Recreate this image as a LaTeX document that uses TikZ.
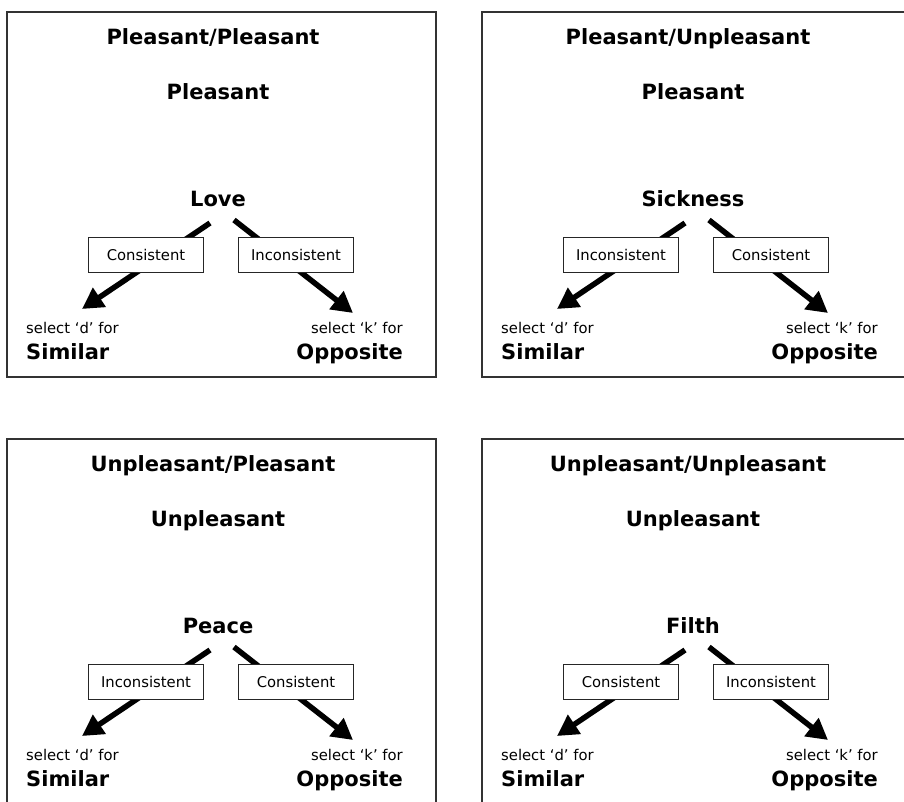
\documentclass[tikz,border=0pt]{standalone}
\usepackage{fontspec}
\setmainfont{DejaVu Sans}
\usetikzlibrary{arrows.meta}

\tikzset{
  panel/.style={draw=black!80, line width=2pt},
  heading/.style={inner sep=0pt, font=\fontsize{21}{24}\selectfont\bfseries},
  hint/.style={inner sep=0pt, font=\fontsize{14.8}{17}\selectfont},
  cond/.style={draw=black!85, line width=1.2pt, fill=white, minimum width=115pt,
    minimum height=35pt, inner sep=0pt, font=\fontsize{14.8}{17}\selectfont},
  choice/.style={line width=5.5pt, -{Triangle[length=21pt,width=22pt]}},
}

\begin{document}
\begin{tikzpicture}[x=1pt, y=-1pt]
        \useasboundingbox (0,0) rectangle (904,801);
        \clip (0,0) rectangle (904,801);
        \foreach \px/\py/\cat/\tgt/\word/\lft/\rgt [count=\k] in {
            7/12/Pleasant/Pleasant/Love/Consistent/Inconsistent,
            482/12/Pleasant/Unpleasant/Sickness/Inconsistent/Consistent,
            7/439/Unpleasant/Pleasant/Peace/Inconsistent/Consistent,
            482/439/Unpleasant/Unpleasant/Filth/Consistent/Inconsistent} {
            \begin{scope}[shift={(\px,\py)}]
                \draw[panel] (0,0) rectangle (429,365);
                
                \node[heading, anchor=base] (title\k) at (206,32) {\cat/\tgt};
                \node[heading, anchor=base] (cat\k) at (211,87) {\cat};
                \node[heading, anchor=base] (word\k) at (211,194) {\word};
                
                \coordinate (ls\k) at (203,211);
                \coordinate (lt\k) at (75,297);
                \coordinate (rs\k) at (227,208);
                \coordinate (rt\k) at (346,301);
                \draw[choice] (ls\k) -- (lt\k);
                \draw[choice] (rs\k) -- (rt\k);
                
                \node[cond] (lbox\k) at (139,243) {\lft};
                \node[cond] (rbox\k) at (289,243) {\rgt};
                
                \node[hint, anchor=base west] (dsel\k) at (19,321) {select `d' for};
                \node[heading, anchor=base west] (sim\k) at (19,347) {Similar};
                \node[hint, anchor=base east] (ksel\k) at (396,321) {select `k' for};
                \node[heading, anchor=base east] (opp\k) at (396,347) {Opposite};
            \end{scope}
        }
    \end{tikzpicture}
\end{document}
